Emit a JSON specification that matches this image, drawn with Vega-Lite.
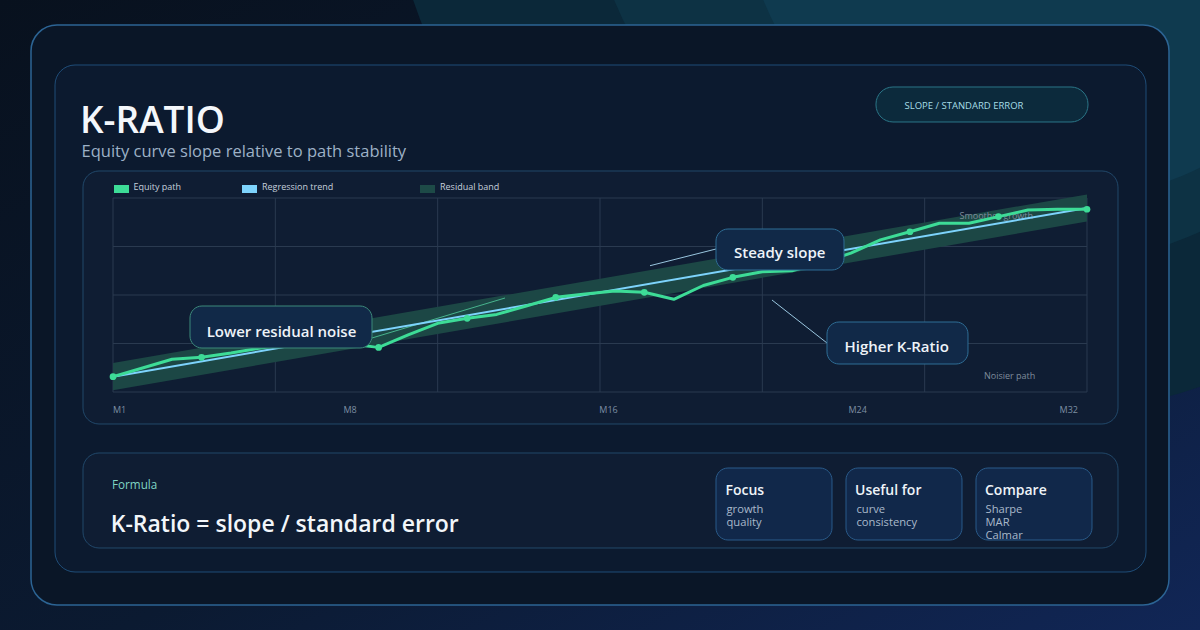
{
  "$schema": "https://vega.github.io/schema/vega-lite/v6.json",
  "width": 1200,
  "height": 630,
  "padding": 0,
  "autosize": {"type": "fit", "contains": "padding"},
  "background": "#0a1424",
  "config": {"view": {"stroke": null}, "font": "Open Sans"},
  "datasets": {
    "equity": [
      {"t": 0, "equity": 107.9}, {"t": 1, "equity": 112.4}, {"t": 2, "equity": 116.9}, {"t": 3, "equity": 117.9},
      {"t": 4, "equity": 120.1}, {"t": 5, "equity": 122.7}, {"t": 6, "equity": 124.7}, {"t": 7, "equity": 126.3},
      {"t": 8, "equity": 124.7}, {"t": 9, "equity": 123.0}, {"t": 10, "equity": 129.4}, {"t": 11, "equity": 135.4},
      {"t": 12, "equity": 138.0}, {"t": 13, "equity": 140.0}, {"t": 14, "equity": 144.3}, {"t": 15, "equity": 148.8},
      {"t": 16, "equity": 150.5}, {"t": 17, "equity": 152.1}, {"t": 18, "equity": 151.4}, {"t": 19, "equity": 147.8},
      {"t": 20, "equity": 154.9}, {"t": 21, "equity": 159.1}, {"t": 22, "equity": 162.0}, {"t": 23, "equity": 162.5},
      {"t": 24, "equity": 166.5}, {"t": 25, "equity": 171.6}, {"t": 26, "equity": 178.4}, {"t": 27, "equity": 182.6},
      {"t": 28, "equity": 187.0}, {"t": 29, "equity": 187.0}, {"t": 30, "equity": 190.4}, {"t": 31, "equity": 193.8},
      {"t": 32, "equity": 194.2}, {"t": 33, "equity": 194.2}
    ],
    "fit": [
      {"t": 0, "trend": 107.9, "lo": 100.9, "hi": 114.9},
      {"t": 33, "trend": 194.85, "lo": 187.85, "hi": 201.85}
    ],
    "frames": [
      {"role": "bg", "x": -3.8286, "x2": 36.8287, "y": -22.68, "y2": 302.062},
      {"role": "outer", "x": -2.7782, "x2": 35.7782, "y": -9.79, "y2": 289.18},
      {"role": "inner", "x": -1.9651, "x2": 34.9989, "y": 7.22, "y2": 268.56},
      {"role": "panel", "x": -1.0164, "x2": 34.0502, "y": 83.51, "y2": 213.92},
      {"role": "panel", "x": -1.0164, "x2": 34.0502, "y": 19.59, "y2": 68.56},
      {"role": "pill", "x": 25.8511, "x2": 33.0338, "y": 239.18, "y2": 257.22},
      {"role": "card", "x": 20.4301, "x2": 24.3603, "y": 23.71, "y2": 60.82},
      {"role": "card", "x": 24.8347, "x2": 28.7648, "y": 23.71, "y2": 60.82},
      {"role": "card", "x": 29.2392, "x2": 33.1693, "y": 23.71, "y2": 60.82},
      {"role": "callout-green", "x": 2.6088, "x2": 8.7751, "y": 122.68, "y2": 144.33},
      {"role": "callout-blue", "x": 20.4301, "x2": 24.7669, "y": 162.89, "y2": 184.02},
      {"role": "callout-blue", "x": 24.1909, "x2": 28.9681, "y": 114.43, "y2": 136.08}
    ],
    "glow": [
      {"name": "a", "x": 30.052, "y": 405.15},
      {"name": "b", "x": 30.73, "y": 389.69},
      {"name": "c", "x": 32.085, "y": 363.92}
    ],
    "grid": [
      {"x": 0, "x2": 0, "y": 100, "y2": 200},
      {"x": 5.5, "x2": 5.5, "y": 100, "y2": 200},
      {"x": 11, "x2": 11, "y": 100, "y2": 200},
      {"x": 16.5, "x2": 16.5, "y": 100, "y2": 200},
      {"x": 22, "x2": 22, "y": 100, "y2": 200},
      {"x": 27.5, "x2": 27.5, "y": 100, "y2": 200},
      {"x": 33, "x2": 33, "y": 100, "y2": 200},
      {"x": 0, "x2": 33, "y": 100, "y2": 100},
      {"x": 0, "x2": 33, "y": 125, "y2": 125},
      {"x": 0, "x2": 33, "y": 150, "y2": 150},
      {"x": 0, "x2": 33, "y": 175, "y2": 175},
      {"x": 0, "x2": 33, "y": 200, "y2": 200}
    ],
    "links": [
      {"kind": "green", "x": 8.7751, "y": 127.84, "x2": 13.2813, "y2": 148.45},
      {"kind": "blue", "x": 18.194, "y": 165.1, "x2": 20.4301, "y2": 173.71},
      {"kind": "blue", "x": 22.3275, "y": 147.42, "x2": 24.1909, "y2": 125.26}
    ],
    "legend": [
      {"series": "Equity path", "x": 0.0339, "x2": 0.5421, "y": 202.58, "y2": 206.7, "tx": 0.6946, "ty": 204.12},
      {"series": "Regression trend", "x": 4.3706, "x2": 4.8788, "y": 202.58, "y2": 206.7, "tx": 5.0482, "ty": 204.12},
      {"series": "Residual band", "x": 10.4014, "x2": 10.9096, "y": 202.58, "y2": 206.7, "tx": 11.079, "ty": 204.12}
    ],
    "labels": [
      {"role": "title", "text": "K-RATIO", "x": -1.118, "y": 233.51},
      {"role": "subtitle", "text": "Equity curve slope relative to path stability", "x": -1.0672, "y": 221.13},
      {"role": "pill", "text": "SLOPE / STANDARD ERROR", "x": 26.817, "y": 245.72},
      {"role": "axis", "text": "M1", "x": 0, "y": 89.02},
      {"role": "axis", "text": "M8", "x": 7.8095, "y": 89.02},
      {"role": "axis", "text": "M16", "x": 16.476, "y": 89.02},
      {"role": "axis", "text": "M24", "x": 24.919, "y": 89.02},
      {"role": "axis-end", "text": "M32", "x": 32.695, "y": 89.02},
      {"role": "note", "text": "Smoother growth", "x": 28.68, "y": 189.02},
      {"role": "note", "text": "Noisier path", "x": 29.51, "y": 106.55},
      {"role": "callout", "text": "Lower residual noise", "x": 5.709, "y": 128.51},
      {"role": "callout", "text": "Steady slope", "x": 22.588, "y": 168.92},
      {"role": "callout", "text": "Higher K-Ratio", "x": 26.552, "y": 120.46},
      {"role": "kicker", "text": "Formula", "x": -0.0339, "y": 50.0},
      {"role": "formula", "text": "K-Ratio = slope / standard error", "x": -0.0779, "y": 27.68},
      {"role": "cardtitle", "text": "Focus", "x": 20.752, "y": 46.91},
      {"role": "cardtitle", "text": "Useful for", "x": 25.14, "y": 46.91},
      {"role": "cardtitle", "text": "Compare", "x": 29.544, "y": 46.91},
      {"role": "cardtext", "text": "growth", "x": 20.786, "y": 37.63},
      {"role": "cardtext", "text": "quality", "x": 20.786, "y": 30.93},
      {"role": "cardtext", "text": "curve", "x": 25.19, "y": 37.63},
      {"role": "cardtext", "text": "consistency", "x": 25.19, "y": 30.93},
      {"role": "cardtext", "text": "Sharpe", "x": 29.561, "y": 37.63},
      {"role": "cardtext", "text": "MAR", "x": 29.561, "y": 30.93},
      {"role": "cardtext", "text": "Calmar", "x": 29.561, "y": 24.23}
    ]
  },
  "layer": [
    {
      "data": {"name": "frames"},
      "transform": [{"filter": "datum.role === 'bg'"}],
      "mark": {"type": "rect", "fill": {"gradient": "linear", "x1": 0, "y1": 0, "x2": 1, "y2": 1, "stops": [{"offset": 0, "color": "#08111e"}, {"offset": 0.55, "color": "#0b1a31"}, {"offset": 1, "color": "#112656"}]}},
      "encoding": {
        "x": {"field": "x", "type": "quantitative", "scale": {"domain": [-3.8286, 36.8287], "nice": false, "zero": false}, "axis": null},
        "x2": {"field": "x2"},
        "y": {"field": "y", "type": "quantitative", "scale": {"domain": [-22.68, 302.062], "nice": false, "zero": false}, "axis": null},
        "y2": {"field": "y2"}
      }
    },
    {
      "data": {"name": "glow"},
      "transform": [{"filter": "datum.name === 'a'"}],
      "mark": {"type": "point", "shape": "circle", "filled": true, "size": 1537600, "color": "#0b2839", "opacity": 1, "clip": true},
      "encoding": {
        "x": {"field": "x", "type": "quantitative", "scale": {"domain": [-3.8286, 36.8287], "nice": false, "zero": false}, "axis": null},
        "y": {"field": "y", "type": "quantitative", "scale": {"domain": [-22.68, 302.062], "nice": false, "zero": false}, "axis": null}
      }
    },
    {
      "data": {"name": "glow"},
      "transform": [{"filter": "datum.name === 'b'"}],
      "mark": {"type": "point", "shape": "circle", "filled": true, "size": 774400, "color": "#0d3244", "opacity": 1, "clip": true},
      "encoding": {
        "x": {"field": "x", "type": "quantitative", "scale": {"domain": [-3.8286, 36.8287], "nice": false, "zero": false}, "axis": null},
        "y": {"field": "y", "type": "quantitative", "scale": {"domain": [-22.68, 302.062], "nice": false, "zero": false}, "axis": null}
      }
    },
    {
      "data": {"name": "glow"},
      "transform": [{"filter": "datum.name === 'c'"}],
      "mark": {"type": "point", "shape": "circle", "filled": true, "size": 409600, "color": "#0f3a4f", "opacity": 1, "clip": true},
      "encoding": {
        "x": {"field": "x", "type": "quantitative", "scale": {"domain": [-3.8286, 36.8287], "nice": false, "zero": false}, "axis": null},
        "y": {"field": "y", "type": "quantitative", "scale": {"domain": [-22.68, 302.062], "nice": false, "zero": false}, "axis": null}
      }
    },
    {
      "data": {"name": "frames"},
      "transform": [{"filter": "datum.role === 'outer'"}],
      "mark": {"type": "rect", "cornerRadius": 26, "fill": "#0a1627", "stroke": "#2c6494", "strokeWidth": 1.5},
      "encoding": {
        "x": {"field": "x", "type": "quantitative", "scale": {"domain": [-3.8286, 36.8287], "nice": false, "zero": false}, "axis": null},
        "x2": {"field": "x2"},
        "y": {"field": "y", "type": "quantitative", "scale": {"domain": [-22.68, 302.062], "nice": false, "zero": false}, "axis": null},
        "y2": {"field": "y2"}
      }
    },
    {
      "data": {"name": "frames"},
      "transform": [{"filter": "datum.role === 'inner'"}],
      "mark": {"type": "rect", "cornerRadius": 20, "fill": "#0c1a2f", "stroke": "#1f4d78", "strokeWidth": 1},
      "encoding": {
        "x": {"field": "x", "type": "quantitative", "scale": {"domain": [-3.8286, 36.8287], "nice": false, "zero": false}, "axis": null},
        "x2": {"field": "x2"},
        "y": {"field": "y", "type": "quantitative", "scale": {"domain": [-22.68, 302.062], "nice": false, "zero": false}, "axis": null},
        "y2": {"field": "y2"}
      }
    },
    {
      "data": {"name": "frames"},
      "transform": [{"filter": "datum.role === 'panel'"}],
      "mark": {"type": "rect", "cornerRadius": 16, "fill": "#0f1d33", "stroke": "#21486a", "strokeWidth": 1},
      "encoding": {
        "x": {"field": "x", "type": "quantitative", "scale": {"domain": [-3.8286, 36.8287], "nice": false, "zero": false}, "axis": null},
        "x2": {"field": "x2"},
        "y": {"field": "y", "type": "quantitative", "scale": {"domain": [-22.68, 302.062], "nice": false, "zero": false}, "axis": null},
        "y2": {"field": "y2"}
      }
    },
    {
      "data": {"name": "frames"},
      "transform": [{"filter": "datum.role === 'pill'"}],
      "mark": {"type": "rect", "cornerRadius": 17, "fill": "#0c2a3c", "stroke": "#2b7688", "strokeWidth": 1},
      "encoding": {
        "x": {"field": "x", "type": "quantitative", "scale": {"domain": [-3.8286, 36.8287], "nice": false, "zero": false}, "axis": null},
        "x2": {"field": "x2"},
        "y": {"field": "y", "type": "quantitative", "scale": {"domain": [-22.68, 302.062], "nice": false, "zero": false}, "axis": null},
        "y2": {"field": "y2"}
      }
    },
    {
      "data": {"name": "frames"},
      "transform": [{"filter": "datum.role === 'card'"}],
      "mark": {"type": "rect", "cornerRadius": 12, "fill": "#11284a", "stroke": "#2a5b8a", "strokeWidth": 1},
      "encoding": {
        "x": {"field": "x", "type": "quantitative", "scale": {"domain": [-3.8286, 36.8287], "nice": false, "zero": false}, "axis": null},
        "x2": {"field": "x2"},
        "y": {"field": "y", "type": "quantitative", "scale": {"domain": [-22.68, 302.062], "nice": false, "zero": false}, "axis": null},
        "y2": {"field": "y2"}
      }
    },
    {
      "data": {"name": "grid"},
      "mark": {"type": "rule", "stroke": "#2a3a50", "strokeWidth": 1},
      "encoding": {
        "x": {"field": "x", "type": "quantitative", "scale": {"domain": [-3.8286, 36.8287], "nice": false, "zero": false}, "axis": null},
        "x2": {"field": "x2"},
        "y": {"field": "y", "type": "quantitative", "scale": {"domain": [-22.68, 302.062], "nice": false, "zero": false}, "axis": null},
        "y2": {"field": "y2"}
      }
    },
    {
      "data": {"name": "fit"},
      "mark": {"type": "area", "fill": "#1c4745", "opacity": 1},
      "encoding": {
        "x": {"field": "t", "type": "quantitative", "scale": {"domain": [-3.8286, 36.8287], "nice": false, "zero": false}, "axis": null},
        "y": {"field": "lo", "type": "quantitative", "scale": {"domain": [-22.68, 302.062], "nice": false, "zero": false}, "axis": null},
        "y2": {"field": "hi"}
      }
    },
    {
      "data": {"name": "labels"},
      "transform": [{"filter": "datum.role === 'note'"}],
      "mark": {"type": "text", "align": "left", "baseline": "alphabetic", "fontSize": 9, "color": "#7f8c9c"},
      "encoding": {
        "x": {"field": "x", "type": "quantitative", "scale": {"domain": [-3.8286, 36.8287], "nice": false, "zero": false}, "axis": null},
        "y": {"field": "y", "type": "quantitative", "scale": {"domain": [-22.68, 302.062], "nice": false, "zero": false}, "axis": null},
        "text": {"field": "text"}
      }
    },
    {
      "data": {"name": "links"},
      "transform": [{"filter": "datum.kind === 'green'"}],
      "mark": {"type": "rule", "stroke": "#4fc79a", "strokeWidth": 1, "opacity": 0.85},
      "encoding": {
        "x": {"field": "x", "type": "quantitative", "scale": {"domain": [-3.8286, 36.8287], "nice": false, "zero": false}, "axis": null},
        "x2": {"field": "x2"},
        "y": {"field": "y", "type": "quantitative", "scale": {"domain": [-22.68, 302.062], "nice": false, "zero": false}, "axis": null},
        "y2": {"field": "y2"}
      }
    },
    {
      "data": {"name": "links"},
      "transform": [{"filter": "datum.kind === 'blue'"}],
      "mark": {"type": "rule", "stroke": "#a9d8f2", "strokeWidth": 1, "opacity": 0.9},
      "encoding": {
        "x": {"field": "x", "type": "quantitative", "scale": {"domain": [-3.8286, 36.8287], "nice": false, "zero": false}, "axis": null},
        "x2": {"field": "x2"},
        "y": {"field": "y", "type": "quantitative", "scale": {"domain": [-22.68, 302.062], "nice": false, "zero": false}, "axis": null},
        "y2": {"field": "y2"}
      }
    },
    {
      "data": {"name": "fit"},
      "mark": {"type": "line", "stroke": "#7dd3fc", "strokeWidth": 2},
      "encoding": {
        "x": {"field": "t", "type": "quantitative", "scale": {"domain": [-3.8286, 36.8287], "nice": false, "zero": false}, "axis": null},
        "y": {"field": "trend", "type": "quantitative", "scale": {"domain": [-22.68, 302.062], "nice": false, "zero": false}, "axis": null}
      }
    },
    {
      "data": {"name": "equity"},
      "mark": {"type": "line", "stroke": "#3ddc97", "strokeWidth": 3, "strokeJoin": "round"},
      "encoding": {
        "x": {"field": "t", "type": "quantitative", "scale": {"domain": [-3.8286, 36.8287], "nice": false, "zero": false}, "axis": null},
        "y": {"field": "equity", "type": "quantitative", "scale": {"domain": [-22.68, 302.062], "nice": false, "zero": false}, "axis": null}
      }
    },
    {
      "data": {"name": "equity"},
      "transform": [{"filter": "datum.t % 3 === 0"}],
      "mark": {"type": "point", "shape": "circle", "filled": true, "size": 45, "color": "#3ddc97", "opacity": 1},
      "encoding": {
        "x": {"field": "t", "type": "quantitative", "scale": {"domain": [-3.8286, 36.8287], "nice": false, "zero": false}, "axis": null},
        "y": {"field": "equity", "type": "quantitative", "scale": {"domain": [-22.68, 302.062], "nice": false, "zero": false}, "axis": null}
      }
    },
    {
      "data": {"name": "frames"},
      "transform": [{"filter": "datum.role === 'callout-green'"}],
      "mark": {"type": "rect", "cornerRadius": 12, "fill": "#112948", "stroke": "#3d8a7b", "strokeWidth": 1},
      "encoding": {
        "x": {"field": "x", "type": "quantitative", "scale": {"domain": [-3.8286, 36.8287], "nice": false, "zero": false}, "axis": null},
        "x2": {"field": "x2"},
        "y": {"field": "y", "type": "quantitative", "scale": {"domain": [-22.68, 302.062], "nice": false, "zero": false}, "axis": null},
        "y2": {"field": "y2"}
      }
    },
    {
      "data": {"name": "frames"},
      "transform": [{"filter": "datum.role === 'callout-blue'"}],
      "mark": {"type": "rect", "cornerRadius": 12, "fill": "#112948", "stroke": "#2f6e96", "strokeWidth": 1},
      "encoding": {
        "x": {"field": "x", "type": "quantitative", "scale": {"domain": [-3.8286, 36.8287], "nice": false, "zero": false}, "axis": null},
        "x2": {"field": "x2"},
        "y": {"field": "y", "type": "quantitative", "scale": {"domain": [-22.68, 302.062], "nice": false, "zero": false}, "axis": null},
        "y2": {"field": "y2"}
      }
    },
    {
      "data": {"name": "labels"},
      "transform": [{"filter": "datum.role === 'callout'"}],
      "mark": {"type": "text", "align": "center", "baseline": "alphabetic", "fontSize": 15, "fontWeight": 600, "color": "#eef3f8"},
      "encoding": {
        "x": {"field": "x", "type": "quantitative", "scale": {"domain": [-3.8286, 36.8287], "nice": false, "zero": false}, "axis": null},
        "y": {"field": "y", "type": "quantitative", "scale": {"domain": [-22.68, 302.062], "nice": false, "zero": false}, "axis": null},
        "text": {"field": "text"}
      }
    },
    {
      "data": {"name": "legend"},
      "mark": {"type": "rect"},
      "encoding": {
        "x": {"field": "x", "type": "quantitative", "scale": {"domain": [-3.8286, 36.8287], "nice": false, "zero": false}, "axis": null},
        "x2": {"field": "x2"},
        "y": {"field": "y", "type": "quantitative", "scale": {"domain": [-22.68, 302.062], "nice": false, "zero": false}, "axis": null},
        "y2": {"field": "y2"},
        "color": {"field": "series", "type": "nominal", "scale": {"domain": ["Equity path", "Regression trend", "Residual band"], "range": ["#3ddc97", "#7dd3fc", "#1d4a47"]}, "legend": null}
      }
    },
    {
      "data": {"name": "legend"},
      "mark": {"type": "text", "align": "left", "baseline": "alphabetic", "fontSize": 9, "color": "#c5d0dc"},
      "encoding": {
        "x": {"field": "tx", "type": "quantitative", "scale": {"domain": [-3.8286, 36.8287], "nice": false, "zero": false}, "axis": null},
        "y": {"field": "ty", "type": "quantitative", "scale": {"domain": [-22.68, 302.062], "nice": false, "zero": false}, "axis": null},
        "text": {"field": "series"}
      }
    },
    {
      "data": {"name": "labels"},
      "transform": [{"filter": "datum.role === 'axis'"}],
      "mark": {"type": "text", "align": "left", "baseline": "alphabetic", "fontSize": 9, "color": "#7d8ea3"},
      "encoding": {
        "x": {"field": "x", "type": "quantitative", "scale": {"domain": [-3.8286, 36.8287], "nice": false, "zero": false}, "axis": null},
        "y": {"field": "y", "type": "quantitative", "scale": {"domain": [-22.68, 302.062], "nice": false, "zero": false}, "axis": null},
        "text": {"field": "text"}
      }
    },
    {
      "data": {"name": "labels"},
      "transform": [{"filter": "datum.role === 'axis-end'"}],
      "mark": {"type": "text", "align": "right", "baseline": "alphabetic", "fontSize": 9, "color": "#7d8ea3"},
      "encoding": {
        "x": {"field": "x", "type": "quantitative", "scale": {"domain": [-3.8286, 36.8287], "nice": false, "zero": false}, "axis": null},
        "y": {"field": "y", "type": "quantitative", "scale": {"domain": [-22.68, 302.062], "nice": false, "zero": false}, "axis": null},
        "text": {"field": "text"}
      }
    },
    {
      "data": {"name": "labels"},
      "transform": [{"filter": "datum.role === 'title'"}],
      "mark": {"type": "text", "align": "left", "baseline": "alphabetic", "fontSize": 37, "fontWeight": 600, "color": "#f4f7fb"},
      "encoding": {
        "x": {"field": "x", "type": "quantitative", "scale": {"domain": [-3.8286, 36.8287], "nice": false, "zero": false}, "axis": null},
        "y": {"field": "y", "type": "quantitative", "scale": {"domain": [-22.68, 302.062], "nice": false, "zero": false}, "axis": null},
        "text": {"field": "text"}
      }
    },
    {
      "data": {"name": "labels"},
      "transform": [{"filter": "datum.role === 'subtitle'"}],
      "mark": {"type": "text", "align": "left", "baseline": "alphabetic", "fontSize": 16.5, "color": "#9db1c6"},
      "encoding": {
        "x": {"field": "x", "type": "quantitative", "scale": {"domain": [-3.8286, 36.8287], "nice": false, "zero": false}, "axis": null},
        "y": {"field": "y", "type": "quantitative", "scale": {"domain": [-22.68, 302.062], "nice": false, "zero": false}, "axis": null},
        "text": {"field": "text"}
      }
    },
    {
      "data": {"name": "labels"},
      "transform": [{"filter": "datum.role === 'pill'"}],
      "mark": {"type": "text", "align": "left", "baseline": "alphabetic", "fontSize": 9.5, "color": "#a6dde6"},
      "encoding": {
        "x": {"field": "x", "type": "quantitative", "scale": {"domain": [-3.8286, 36.8287], "nice": false, "zero": false}, "axis": null},
        "y": {"field": "y", "type": "quantitative", "scale": {"domain": [-22.68, 302.062], "nice": false, "zero": false}, "axis": null},
        "text": {"field": "text"}
      }
    },
    {
      "data": {"name": "labels"},
      "transform": [{"filter": "datum.role === 'kicker'"}],
      "mark": {"type": "text", "align": "left", "baseline": "alphabetic", "fontSize": 11.7, "color": "#7fd6c4"},
      "encoding": {
        "x": {"field": "x", "type": "quantitative", "scale": {"domain": [-3.8286, 36.8287], "nice": false, "zero": false}, "axis": null},
        "y": {"field": "y", "type": "quantitative", "scale": {"domain": [-22.68, 302.062], "nice": false, "zero": false}, "axis": null},
        "text": {"field": "text"}
      }
    },
    {
      "data": {"name": "labels"},
      "transform": [{"filter": "datum.role === 'formula'"}],
      "mark": {"type": "text", "align": "left", "baseline": "alphabetic", "fontSize": 23, "fontWeight": 600, "color": "#f2f6fa"},
      "encoding": {
        "x": {"field": "x", "type": "quantitative", "scale": {"domain": [-3.8286, 36.8287], "nice": false, "zero": false}, "axis": null},
        "y": {"field": "y", "type": "quantitative", "scale": {"domain": [-22.68, 302.062], "nice": false, "zero": false}, "axis": null},
        "text": {"field": "text"}
      }
    },
    {
      "data": {"name": "labels"},
      "transform": [{"filter": "datum.role === 'cardtitle'"}],
      "mark": {"type": "text", "align": "left", "baseline": "alphabetic", "fontSize": 14, "fontWeight": 600, "color": "#eef3f8"},
      "encoding": {
        "x": {"field": "x", "type": "quantitative", "scale": {"domain": [-3.8286, 36.8287], "nice": false, "zero": false}, "axis": null},
        "y": {"field": "y", "type": "quantitative", "scale": {"domain": [-22.68, 302.062], "nice": false, "zero": false}, "axis": null},
        "text": {"field": "text"}
      }
    },
    {
      "data": {"name": "labels"},
      "transform": [{"filter": "datum.role === 'cardtext'"}],
      "mark": {"type": "text", "align": "left", "baseline": "alphabetic", "fontSize": 11.2, "color": "#a9b9ca"},
      "encoding": {
        "x": {"field": "x", "type": "quantitative", "scale": {"domain": [-3.8286, 36.8287], "nice": false, "zero": false}, "axis": null},
        "y": {"field": "y", "type": "quantitative", "scale": {"domain": [-22.68, 302.062], "nice": false, "zero": false}, "axis": null},
        "text": {"field": "text"}
      }
    }
  ]
}
